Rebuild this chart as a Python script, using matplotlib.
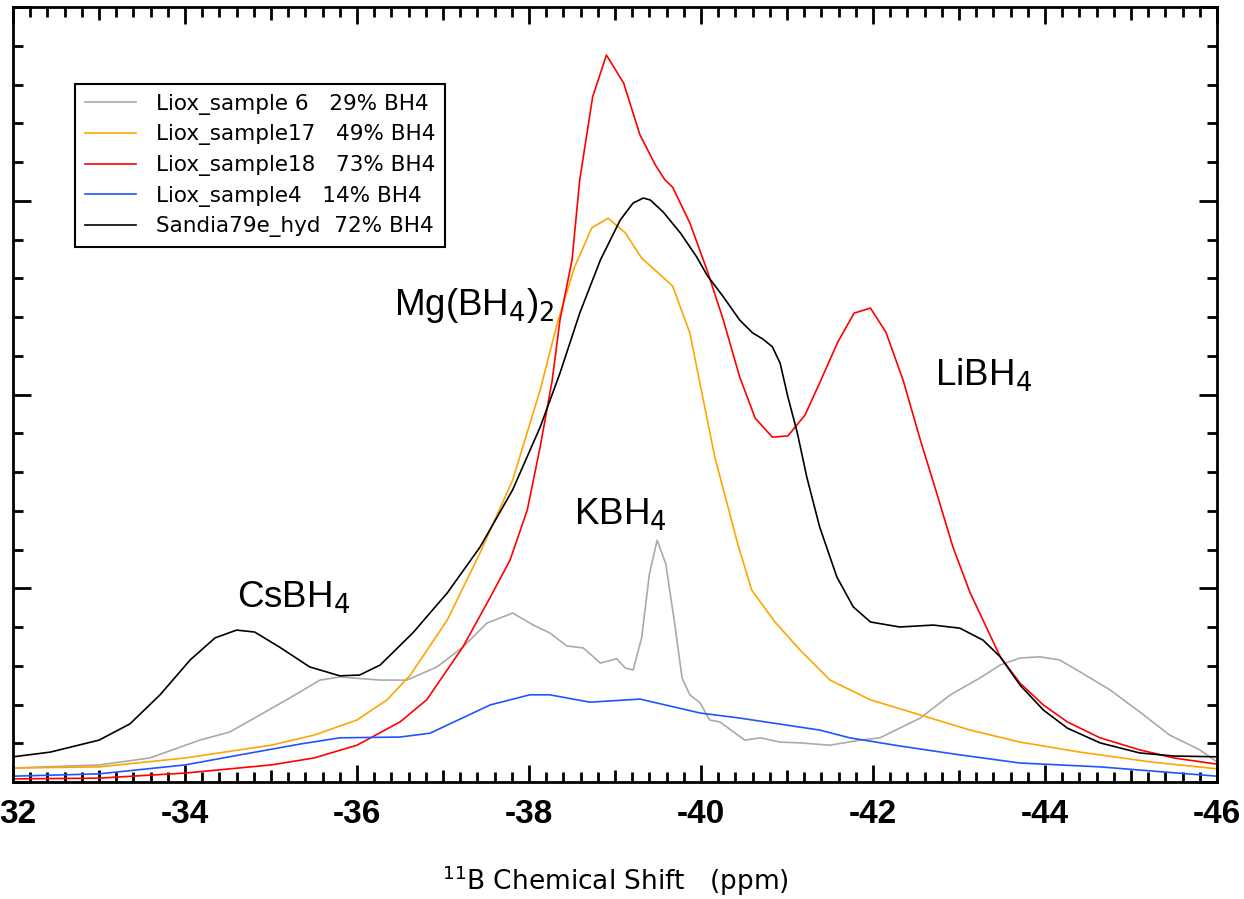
import matplotlib.pyplot as plt
from matplotlib.ticker import MultipleLocator, NullFormatter
from matplotlib.transforms import ScaledTranslation

plt.rcParams['axes.unicode_minus'] = False
plt.rcParams['font.family'] = ['Liberation Sans', 'DejaVu Sans']

# 11B MAS NMR spectra, intensity in arbitrary units
ppm_black = [-32.0, -32.43, -33.0, -33.36, -33.71, -34.06, -34.35, -34.6, -34.81, -35.1,
             -35.45, -35.8, -36.03, -36.27, -36.65, -37.05, -37.43, -37.81, -38.13, -38.36,
             -38.59, -38.83, -39.06, -39.21, -39.33, -39.41, -39.56, -39.76, -39.95, -40.07,
             -40.26, -40.45, -40.6, -40.72, -40.83, -40.92, -41.01, -41.12, -41.23, -41.38,
             -41.58, -41.77, -41.97, -42.31, -42.7, -43.01, -43.28, -43.48, -43.71, -43.98,
             -44.26, -44.64, -45.1, -45.5, -46.0]
int_black = [0.65, 0.77, 1.08, 1.50, 2.25, 3.15, 3.72, 3.92, 3.87, 3.48,
             2.97, 2.74, 2.76, 3.02, 3.85, 4.88, 6.06, 7.54, 9.16, 10.55,
             12.10, 13.47, 14.50, 14.94, 15.07, 15.02, 14.71, 14.17, 13.55, 13.08,
             12.52, 11.92, 11.59, 11.43, 11.23, 10.81, 9.94, 9.01, 7.87, 6.58,
             5.29, 4.52, 4.13, 4.0, 4.05, 3.97, 3.66, 3.23, 2.50, 1.86,
             1.39, 1.01, 0.75, 0.67, 0.65]

ppm_red = [-32.0, -33.0, -34.0, -35.0, -35.5, -36.0, -36.5, -36.81, -37.23, -37.55,
           -37.78, -37.98, -38.13, -38.27, -38.36, -38.5, -38.59, -38.74, -38.9, -39.1,
           -39.29, -39.47, -39.58, -39.67, -39.87, -40.07, -40.26, -40.45, -40.63, -40.83,
           -41.01, -41.21, -41.38, -41.59, -41.78, -41.97, -42.15, -42.35, -42.55, -42.74,
           -42.93, -43.13, -43.48, -43.71, -43.98, -44.26, -44.64, -45.1, -45.5, -46.0]
int_red = [0.08, 0.10, 0.23, 0.44, 0.62, 0.95, 1.55, 2.12, 3.48, 4.77,
           5.73, 7.02, 8.65, 10.37, 11.92, 13.47, 15.54, 17.68, 18.76, 18.04,
           16.7, 15.92, 15.54, 15.35, 14.43, 13.21, 11.92, 10.45, 9.39, 8.90,
           8.93, 9.47, 10.30, 11.35, 12.10, 12.23, 11.61, 10.37, 8.83, 7.46,
           6.06, 4.88, 3.23, 2.55, 1.99, 1.55, 1.14, 0.83, 0.62, 0.46]

ppm_orange = [-32.0, -33.0, -34.0, -35.0, -35.5, -36.0, -36.35, -36.62, -37.05, -37.43,
              -37.81, -38.13, -38.33, -38.53, -38.73, -38.92, -39.12, -39.31, -39.67, -39.87,
              -40.16, -40.43, -40.59, -40.86, -41.15, -41.5, -41.97, -42.55, -43.13, -43.71,
              -44.41, -45.22, -46.0]
int_orange = [0.36, 0.39, 0.62, 0.95, 1.21, 1.6, 2.12, 2.76, 4.18, 5.91,
              7.79, 10.12, 11.85, 13.29, 14.30, 14.55, 14.17, 13.52, 12.8, 11.59,
              8.39, 6.12, 4.95, 4.13, 3.41, 2.63, 2.12, 1.73, 1.34, 1.03,
              0.77, 0.52, 0.34]

ppm_blue = [-32.0, -33.0, -34.0, -34.64, -35.34, -35.8, -36.5, -36.85, -37.55, -38.01,
            -38.24, -38.71, -39.29, -39.99, -40.45, -41.38, -41.73, -42.31, -43.01, -43.71,
            -44.64, -46.0]
int_blue = [0.15, 0.21, 0.44, 0.70, 0.98, 1.14, 1.16, 1.26, 1.99, 2.25,
            2.25, 2.06, 2.14, 1.78, 1.65, 1.34, 1.14, 0.93, 0.70, 0.49,
            0.39, 0.15]

ppm_gray = [-32.0, -33.0, -33.59, -34.17, -34.52, -34.87, -35.22, -35.57, -35.8, -36.27,
            -36.58, -36.93, -37.23, -37.51, -37.81, -38.05, -38.24, -38.44, -38.63, -38.83,
            -39.02, -39.12, -39.21, -39.31, -39.4, -39.49, -39.59, -39.69, -39.78, -39.87,
            -39.99, -40.1, -40.22, -40.51, -40.69, -40.92, -41.15, -41.5, -41.85, -42.08,
            -42.31, -42.55, -42.9, -43.24, -43.48, -43.71, -43.94, -44.17, -44.41, -44.76,
            -45.1, -45.45, -45.8, -46.0]
int_gray = [0.36, 0.44, 0.62, 1.08, 1.29, 1.73, 2.17, 2.63, 2.71, 2.63,
            2.63, 2.97, 3.48, 4.10, 4.36, 4.05, 3.85, 3.51, 3.46, 3.07,
            3.18, 2.94, 2.89, 3.72, 5.37, 6.24, 5.63, 4.15, 2.68, 2.25,
            2.04, 1.6, 1.55, 1.08, 1.14, 1.03, 1.01, 0.95, 1.08, 1.14,
            1.39, 1.65, 2.25, 2.68, 3.02, 3.2, 3.23, 3.15, 2.84, 2.37,
            1.81, 1.21, 0.83, 0.52]

labels = ['Liox_sample 6   29% BH4', 'Liox_sample17   49% BH4', 'Liox_sample18   73% BH4',
          'Liox_sample4   14% BH4', 'Sandia79e_hyd  72% BH4']

fig = plt.figure(figsize=(12.44, 8.99), dpi=100)
ax = fig.add_axes([13 / 1244, 117 / 899, 1204 / 1244, 775 / 899])

lw = 1.2
ax.plot(ppm_gray, int_gray, color='#aaaaaa', lw=lw, label=labels[0])
ax.plot(ppm_orange, int_orange, color='#ffa500', lw=lw, label=labels[1])
ax.plot(ppm_red, int_red, color='#ff0000', lw=lw, label=labels[2])
ax.plot(ppm_blue, int_blue, color='#1f55ff', lw=lw, label=labels[3])
ax.plot(ppm_black, int_black, color='black', lw=lw, label=labels[4])

ax.yaxis.set_major_locator(MultipleLocator(5))
ax.yaxis.set_minor_locator(MultipleLocator(1))
ax.yaxis.set_major_formatter(NullFormatter())
ax.xaxis.set_minor_locator(MultipleLocator(0.2))
ax.tick_params(which='both', direction='in', top=True, right=True, width=2)
ax.tick_params(which='major', length=13)
ax.tick_params(which='minor', length=7)
ax.tick_params(axis='x', which='major', length=12.5, labelsize=24, pad=12)
for side in ax.spines.values():
    side.set_linewidth(2)

xt = list(range(-32, -47, -1))
ax.set_xticks(xt)
# the leftmost label only shows its digits at the figure edge
tick_text = ['32'] + [('%d' % v) if v % 2 == 0 else '' for v in xt[1:]]
ax.set_xticklabels(tick_text, fontweight='bold')
for tick, v in zip(ax.xaxis.get_major_ticks(), xt):
    if v % 2 != 0:
        tick.tick1line.set_markersize(9)
        tick.tick2line.set_markersize(9)
first = ax.get_xticklabels()[0]
first.set_transform(first.get_transform() + ScaledTranslation(5 / 100, 0, fig.dpi_scale_trans))
ax.set_xlim(-32, -46)
ax.set_ylim(0, 20)

ax.set_xlabel('$^{11}$B Chemical Shift   (ppm)', fontsize=19, labelpad=24,
              family='DejaVu Sans')

ax.text(-37.36, 12.3, 'Mg(BH$_4$)$_2$', fontsize=26.5, ha='center', va='center')
ax.text(-43.28, 10.5, 'LiBH$_4$', fontsize=26.5, ha='center', va='center')
ax.text(-39.06, 6.9, 'KBH$_4$', fontsize=26.5, ha='center', va='center')
ax.text(-35.26, 4.75, 'CsBH$_4$', fontsize=26.5, ha='center', va='center')

leg = ax.legend(loc='upper left', bbox_to_anchor=(62 / 1204, (775 - 77) / 775),
                prop={'family': 'DejaVu Sans', 'size': 15.5}, frameon=True,
                fancybox=False, edgecolor='black', framealpha=1,
                handlelength=2.4, handletextpad=0.9, labelspacing=0.45,
                borderpad=0.45, borderaxespad=0)
leg.get_frame().set_linewidth(1.5)

fig.savefig('out.png', dpi=100)
